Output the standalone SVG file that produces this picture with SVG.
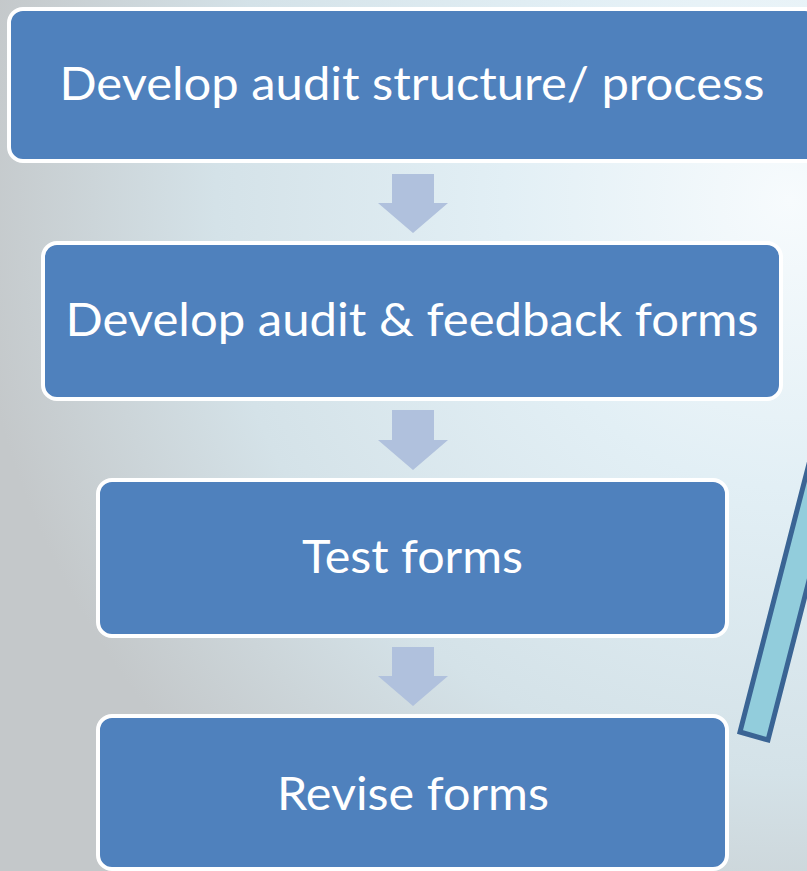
<svg xmlns="http://www.w3.org/2000/svg" width="807" height="871" viewBox="0 0 807 871">
<defs>
<radialGradient id="bg" cx="790" cy="200" r="820" gradientUnits="userSpaceOnUse">
<stop offset="0" stop-color="#f7fbfd"/>
<stop offset="0.35" stop-color="#e2eff5"/>
<stop offset="0.7" stop-color="#d4e2e8"/>
<stop offset="1" stop-color="#c4c8ca"/>
</radialGradient>
<style>
.box{fill:#4f81bd;stroke:#ffffff;stroke-width:4}
.lbl{fill:#ffffff;font-family:Lato,"Open Sans",sans-serif;font-weight:400;font-size:46px;text-anchor:middle}
.arr{fill:#b0c1dd}
</style>
</defs>
<rect x="0" y="0" width="807" height="871" fill="url(#bg)"/>
<g id="connectors">
<polygon class="arr" points="392,174 434,174 434,203 448,203 413,233 378,203 392,203"/>
<polygon class="arr" points="392,410 434,410 434,440 448,440 413,470 378,440 392,440"/>
<polygon class="arr" points="392,647 434,647 434,676 448,676 413,706 378,676 392,676"/>
</g>
<g id="pen">
<polygon points="740,732 768,740 840,460 812,452" fill="#92cddc" stroke="#3a6494" stroke-width="5"/>
</g>
<g id="node1">
<rect class="box" x="9" y="9" width="810" height="152" rx="14"/>
<text class="lbl" x="412" y="100" textLength="705" lengthAdjust="spacingAndGlyphs">Develop audit structure/ process</text>
</g>
<g id="node2">
<rect class="box" x="43" y="243" width="738" height="156" rx="14"/>
<text class="lbl" x="412" y="336" textLength="693" lengthAdjust="spacingAndGlyphs">Develop audit &amp; feedback forms</text>
</g>
<g id="node3">
<rect class="box" x="98" y="480" width="629" height="156" rx="14"/>
<text class="lbl" x="412.5" y="573" textLength="221" lengthAdjust="spacingAndGlyphs">Test forms</text>
</g>
<g id="node4">
<rect class="box" x="98" y="716" width="629" height="153" rx="14"/>
<text class="lbl" x="413" y="810" textLength="272" lengthAdjust="spacingAndGlyphs">Revise forms</text>
</g>
</svg>
